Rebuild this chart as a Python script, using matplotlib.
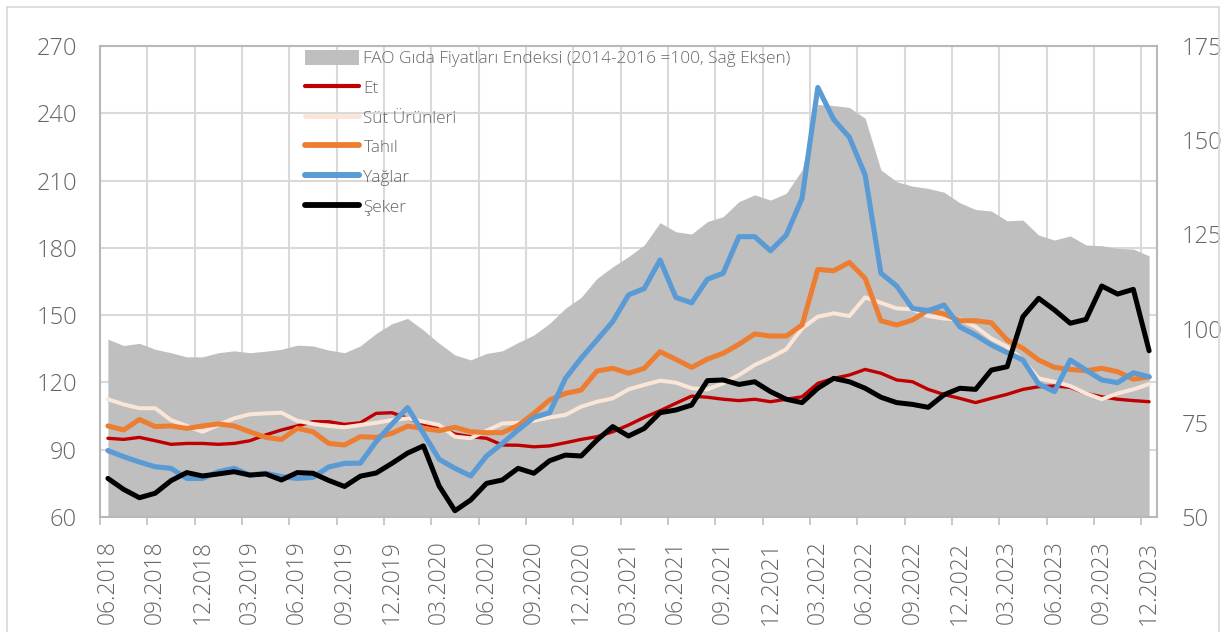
import matplotlib
matplotlib.use("Agg")
import matplotlib.pyplot as plt
from matplotlib.lines import Line2D
from matplotlib.patches import Patch
import numpy as np

plt.rcParams['font.family'] = ['Open Sans', 'DejaVu Sans']
plt.rcParams['font.weight'] = 'light'

# monthly, 06.2018 - 12.2023
months = ['06.2018', '07.2018', '08.2018', '09.2018', '10.2018', '11.2018', '12.2018',
          '01.2019', '02.2019', '03.2019', '04.2019', '05.2019', '06.2019', '07.2019',
          '08.2019', '09.2019', '10.2019', '11.2019', '12.2019', '01.2020', '02.2020',
          '03.2020', '04.2020', '05.2020', '06.2020', '07.2020', '08.2020', '09.2020',
          '10.2020', '11.2020', '12.2020', '01.2021', '02.2021', '03.2021', '04.2021',
          '05.2021', '06.2021', '07.2021', '08.2021', '09.2021', '10.2021', '11.2021',
          '12.2021', '01.2022', '02.2022', '03.2022', '04.2022', '05.2022', '06.2022',
          '07.2022', '08.2022', '09.2022', '10.2022', '11.2022', '12.2022', '01.2023',
          '02.2023', '03.2023', '04.2023', '05.2023', '06.2023', '07.2023', '08.2023',
          '09.2023', '10.2023', '11.2023', '12.2023']

# FAO food price index (2014-2016=100), right axis
fao = [97.2, 95.5, 96.1, 94.5, 93.6, 92.5, 92.5, 93.6, 94.1, 93.6, 94.0, 94.5, 95.6, 95.4,
       94.3, 93.6, 95.4, 98.7, 101.3, 102.7, 99.6, 96.1, 93.0, 91.7, 93.4, 94.1, 96.3, 98.3,
       101.4, 105.4, 108.3, 113.3, 116.4, 119.1, 122.2, 128.1, 125.7, 125.1, 128.4, 129.7,
       133.7, 135.5, 134.1, 135.9, 142.1, 159.5, 159.2, 158.7, 155.8, 142.1, 139.0, 137.8,
       137.2, 136.2, 133.4, 131.6, 131.2, 128.6, 128.8, 124.8, 123.5, 124.6, 122.2, 122.0,
       121.3, 121.1, 119.3]

# sub-indices, left axis
et = [95.1, 94.6, 95.5, 94.0, 92.4, 92.8, 92.8, 92.4, 92.8, 94.0, 96.6, 98.8, 100.6, 102.5,
      102.5, 101.3, 102.0, 106.2, 106.5, 104.0, 101.5, 100.0, 97.0, 95.8, 95.1, 92.1, 92.0,
      91.3, 91.7, 93.1, 94.6, 95.8, 98.0, 101.0, 104.4, 107.4, 110.7, 113.9, 113.4, 112.5,
      111.9, 112.5, 111.4, 112.5, 113.6, 119.6, 121.8, 123.3, 125.8, 124.1, 121.1, 120.3,
      116.9, 114.6, 112.9, 111.0, 112.9, 114.7, 116.9, 118.1, 118.4, 117.8, 115.1, 113.6,
      112.5, 111.9, 111.4]
sut = [112.5, 110.2, 108.5, 108.5, 103.2, 100.6, 98.0, 101.0, 104.0, 105.8, 106.2, 106.5,
       102.9, 101.5, 100.6, 100.0, 101.0, 102.0, 103.2, 104.0, 102.5, 101.0, 95.8, 95.1, 98.5,
       101.7, 102.0, 102.9, 104.4, 105.5, 109.2, 111.4, 112.9, 116.9, 118.9, 120.8, 119.9,
       117.4, 116.9, 119.6, 123.3, 127.8, 131.0, 134.8, 144.1, 149.3, 150.8, 149.6, 157.9,
       155.5, 153.0, 152.6, 149.6, 148.5, 148.1, 144.8, 139.6, 135.9, 130.0, 121.8, 120.3,
       118.4, 115.1, 112.5, 115.1, 116.9, 119.3]
tahil = [100.6, 98.8, 103.5, 100.3, 100.6, 99.5, 100.6, 101.5, 100.6, 98.0, 95.5, 94.6, 99.5,
         98.0, 92.8, 92.1, 95.8, 95.5, 97.3, 100.5, 99.5, 98.5, 100.0, 98.0, 97.6, 97.6, 100.8,
         106.2, 112.2, 115.1, 116.6, 125.1, 126.3, 124.1, 126.3, 133.7, 130.3, 126.7, 130.4,
         133.0, 137.0, 141.6, 140.7, 140.7, 145.6, 170.4, 169.8, 173.5, 166.4, 147.5, 145.6,
         147.8, 152.3, 150.5, 147.5, 147.5, 146.6, 138.9, 135.2, 130.0, 126.7, 125.8, 125.2,
         126.3, 124.8, 121.4, 122.5]
yaglar = [89.6, 86.9, 84.5, 82.4, 81.7, 77.2, 77.2, 80.2, 81.7, 78.7, 79.5, 78.0, 77.2, 77.7,
          82.3, 83.9, 84.0, 93.6, 101.4, 108.8, 97.3, 85.7, 81.7, 78.3, 87.2, 92.8, 98.8,
          104.4, 106.5, 121.8, 130.8, 138.9, 147.1, 159.0, 161.9, 174.6, 157.9, 155.5, 166.0,
          168.7, 185.0, 185.0, 178.7, 185.7, 202.1, 251.5, 237.3, 229.3, 212.5, 168.7, 163.0,
          153.0, 152.0, 154.5, 144.8, 141.1, 136.7, 133.3, 130.0, 119.3, 115.9, 130.0, 125.5,
          121.1, 119.9, 124.3, 122.5]
seker = [77.2, 72.3, 68.6, 70.6, 76.2, 79.8, 78.3, 79.2, 80.2, 78.7, 79.2, 76.5, 79.8, 79.5,
         76.3, 73.6, 78.2, 79.6, 83.9, 88.5, 91.7, 73.8, 62.8, 67.6, 75.0, 76.5, 81.7, 79.5,
         85.1, 87.6, 87.2, 94.3, 100.3, 96.1, 99.5, 106.5, 107.7, 109.9, 120.8, 121.1, 119.1,
         120.3, 115.9, 112.5, 111.0, 117.4, 121.8, 120.3, 117.4, 113.4, 111.0, 110.2, 108.9,
         114.5, 117.4, 116.9, 125.5, 127.0, 149.3, 157.5, 152.3, 146.4, 148.1, 163.0, 159.4,
         161.5, 134.1]

series = [('Et', et, '#C00000', 2.4),
          ('Süt Ürünleri', sut, '#FBE5D6', 2.9),
          ('Tahıl', tahil, '#ED7D31', 3.6),
          ('Yağlar', yaglar, '#5B9BD5', 3.7),
          ('Şeker', seker, '#000000', 3.6)]

left_ticks = [60, 90, 120, 150, 180, 210, 240, 270]
right_ticks = [50, 75, 100, 125, 150, 175]
fao_label = 'FAO Gıda Fiyatları Endeksi (2014-2016 =100, Sağ Eksen)'

txt = '#666666'
grid_c = '#d9d9d9'


# right axis (50-175) <-> left axis (60-270)
def r2l(v):
    return 60 + (np.asarray(v, dtype=float) - 50) * 210.0 / 125.0


def l2r(v):
    return 50 + (np.asarray(v, dtype=float) - 60) * 125.0 / 210.0


fig = plt.figure(figsize=(12.23, 6.32), dpi=100)
ax = fig.add_axes([100 / 1223, 1 - 517 / 632, 1057 / 1223, 471 / 632])

x = np.arange(len(months))
ax.fill_between(x, 60, r2l(fao), color='#BFBFBF', lw=0, zorder=1)
for name, vals, col, lw in series:
    ax.plot(x, vals, color=col, lw=lw, solid_capstyle='round',
            solid_joinstyle='round', zorder=3)

ax.set_xlim(-0.5, len(months) - 0.5)
ax.set_ylim(60, 270)

# labels in the middle of the category, ticks/grid at the boundaries
ax.set_xticks(x[::3])
ax.set_xticklabels(months[::3], rotation=90, fontsize=16.5, color=txt)
ax.set_xticks(np.arange(-0.5, len(months) - 0.5, 3), minor=True)
ax.tick_params(axis='x', which='major', length=0, pad=17)
ax.tick_params(axis='x', which='minor', length=6, width=1.2, color='#bfbfbf')

ax.set_yticks(left_ticks)
ax.tick_params(axis='y', length=0, labelsize=17, labelcolor=txt, pad=16.5)

ax.set_axisbelow(True)
ax.grid(axis='y', color=grid_c, lw=1.5)
ax.grid(axis='x', which='minor', color=grid_c, lw=1.5)
for s in ax.spines.values():
    s.set_color('#b8b8b8')
    s.set_linewidth(1.5)

sec = ax.secondary_yaxis('right', functions=(l2r, r2l))
sec.set_yticks(right_ticks)
sec.tick_params(length=0, labelsize=17, labelcolor=txt, pad=17.5)
sec.spines['right'].set_visible(False)

handles = [Patch(facecolor='#BFBFBF', edgecolor='none', label=fao_label)]
for name, vals, col, lw in series:
    handles.append(Line2D([0], [0], color=col, lw=lw + 0.6, solid_capstyle='round',
                          label=name))
leg = ax.legend(handles=handles, loc='upper left', bbox_to_anchor=(0.1873, 1.007),
                frameon=False, fontsize=12.4, handlelength=3.15, handleheight=1.0,
                handletextpad=0.25, labelspacing=0.7, borderaxespad=0)
for t in leg.get_texts():
    t.set_color(txt)

# outer chart frame
for xs, ys in [([7 / 1223, 7 / 1223], [0, 1 - 7 / 632]),
               ([7 / 1223, 1219 / 1223], [1 - 7 / 632, 1 - 7 / 632]),
               ([1219 / 1223, 1219 / 1223], [0, 1 - 7 / 632])]:
    fig.add_artist(Line2D(xs, ys, color=grid_c, lw=1.2))

fig.savefig('out.png', dpi=100)
